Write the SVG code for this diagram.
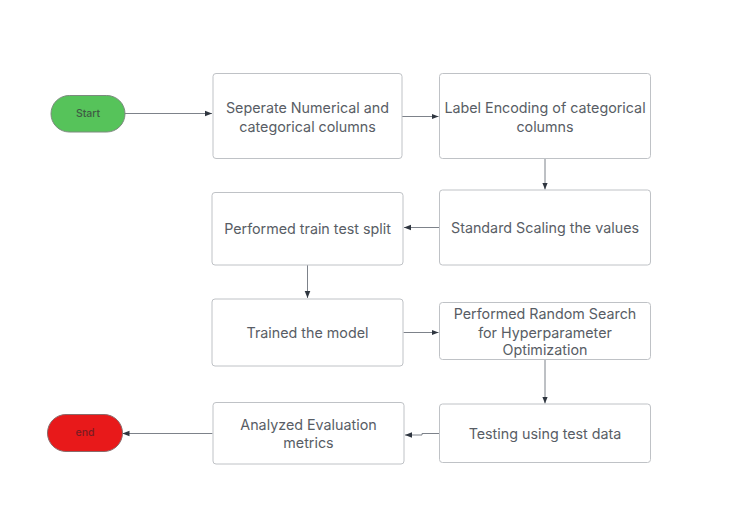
<svg xmlns="http://www.w3.org/2000/svg" width="732" height="513" viewBox="0 0 732 513">
<defs>
<style>
.box{fill:#ffffff;stroke:#bfc2c6;stroke-width:1}
.t{font-family:Inter,"Liberation Sans",sans-serif;font-size:14.3px;fill:#585d65;text-anchor:middle;dominant-baseline:central}
.c{fill:none;stroke:#7d828a;stroke-width:1}
.term{font-family:Inter,"Liberation Sans",sans-serif;font-size:10.5px;font-weight:500;text-anchor:middle;dominant-baseline:central}
</style>
<marker id="ah" viewBox="0 0 10 10" refX="10" refY="5" markerWidth="7" markerHeight="7" markerUnits="userSpaceOnUse" orient="auto">
<path d="M0,1 L10,5 L0,9 Z" fill="#2f3640"/>
</marker>
</defs>
<rect width="732" height="513" fill="#ffffff"/>
<g id="connectors">
<path class="c" d="M125,113.5 H212" marker-end="url(#ah)"/>
<path class="c" d="M402,116.5 H438.5" marker-end="url(#ah)"/>
<path class="c" d="M545,159 V189.5" marker-end="url(#ah)"/>
<path class="c" d="M439,227.5 H404" marker-end="url(#ah)"/>
<path class="c" d="M307.5,265 V298" marker-end="url(#ah)"/>
<path class="c" d="M403.5,332.5 H438.5" marker-end="url(#ah)"/>
<path class="c" d="M545,359.5 V403.5" marker-end="url(#ah)"/>
<path class="c" d="M439,433.5 H422 V435 H405" marker-end="url(#ah)"/>
<path class="c" d="M212.5,433.5 H122.5" marker-end="url(#ah)"/>
</g>
<g id="start">
<rect x="51" y="95.5" width="74" height="36.5" rx="18.25" fill="#56c35a" stroke="#7c8a7e" stroke-width="1"/>
<text class="term" x="88" y="113.5" fill="#3f5a44">Start</text>
</g>
<g id="n1">
<rect class="box" x="213" y="73.5" width="189" height="85" rx="3"/>
<text class="t" x="307.5" y="107.5">Seperate Numerical and</text>
<text class="t" x="307.5" y="126">categorical columns</text>
</g>
<g id="n2">
<rect class="box" x="439.5" y="73.5" width="211" height="85" rx="3"/>
<text class="t" x="545" y="107.5">Label Encoding of categorical</text>
<text class="t" x="545" y="126">columns</text>
</g>
<g id="n3">
<rect class="box" x="439.5" y="190" width="211" height="75" rx="3"/>
<text class="t" x="545" y="227.5">Standard Scaling the values</text>
</g>
<g id="n4">
<rect class="box" x="212" y="192.5" width="191" height="72.5" rx="3"/>
<text class="t" x="307.5" y="228">Performed train test split</text>
</g>
<g id="n5">
<rect class="box" x="212" y="299" width="191" height="67" rx="3"/>
<text class="t" x="307.5" y="332.5">Trained the model</text>
</g>
<g id="n6">
<rect class="box" x="439.5" y="302.5" width="211" height="57" rx="3"/>
<text class="t" x="545" y="313.5">Performed Random Search</text>
<text class="t" x="545" y="332">for Hyperparameter</text>
<text class="t" x="545" y="349.5">Optimization</text>
</g>
<g id="n7">
<rect class="box" x="213" y="402.5" width="191" height="61.5" rx="3"/>
<text class="t" x="308.5" y="424">Analyzed Evaluation</text>
<text class="t" x="308.5" y="442">metrics</text>
</g>
<g id="n8">
<rect class="box" x="439.5" y="404" width="211" height="58.5" rx="3"/>
<text class="t" x="545" y="433">Testing using test data</text>
</g>
<g id="end">
<rect x="47.5" y="414.5" width="75" height="37" rx="18.5" fill="#e8191a" stroke="#8a6a6a" stroke-width="1"/>
<text class="term" x="85" y="432.5" fill="#7a1c22">end</text>
</g>
</svg>
